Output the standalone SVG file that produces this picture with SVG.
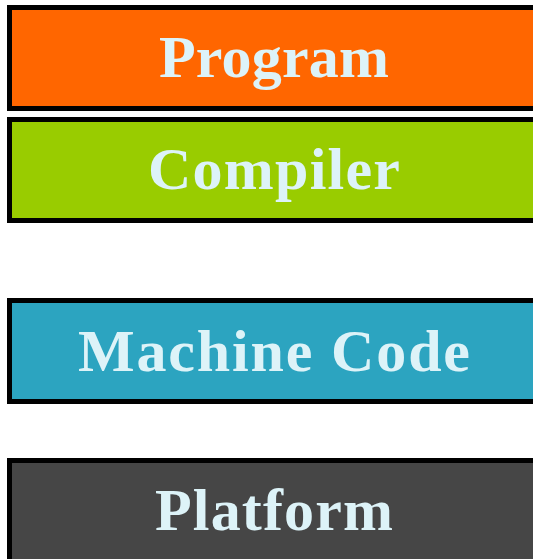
<svg xmlns="http://www.w3.org/2000/svg" width="533" height="559" viewBox="0 0 533 559">
<style>
.box{stroke:#000;stroke-width:5}
.lbl{font-family:"Liberation Serif",serif;font-weight:bold;font-size:60px;fill:#DDF3F8;text-anchor:middle}
</style>
<rect width="533" height="559" fill="#fff"/>
<g id="program"><rect class="box" x="9.5" y="7.5" width="540" height="101" fill="#FF6600"/><text class="lbl" x="274" y="77" textLength="230" lengthAdjust="spacing">Program</text></g>
<g id="compiler"><rect class="box" x="9.5" y="119.5" width="540" height="101" fill="#99CC00"/><text class="lbl" x="274" y="189" textLength="252" lengthAdjust="spacing">Compiler</text></g>
<g id="machine-code"><rect class="box" x="9.5" y="300.5" width="540" height="101" fill="#2CA4C0"/><text class="lbl" x="274" y="371" textLength="392" lengthAdjust="spacing">Machine Code</text></g>
<g id="platform"><rect class="box" x="9.5" y="460.5" width="540" height="120" fill="#464646"/><text class="lbl" x="274" y="530" textLength="238" lengthAdjust="spacing">Platform</text></g>
<g id="connectors"></g>
</svg>
